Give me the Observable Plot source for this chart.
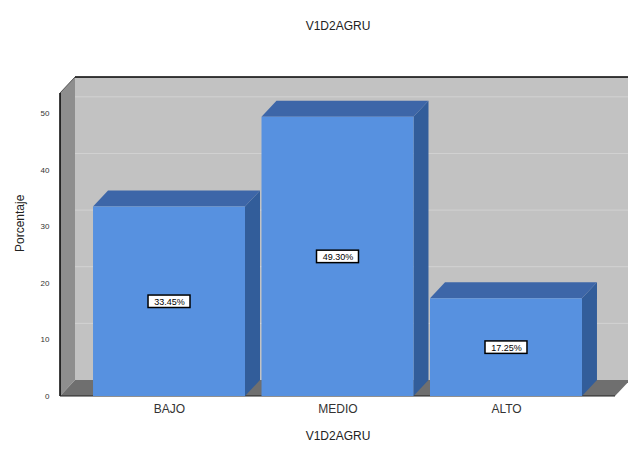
<!DOCTYPE html>
<html>
<head>
<meta charset="utf-8">
<script src="https://cdn.jsdelivr.net/npm/d3@7"></script>
<script src="https://cdn.jsdelivr.net/npm/@observablehq/plot@0.6"></script>
<style>
  html, body { margin: 0; padding: 0; background: #ffffff; }
  #chart svg { display: block; }
</style>
</head>
<body>
<div id="chart"></div>
<script>
// ---- data ----
const categories = ["BAJO", "MEDIO", "ALTO"];
const values = [33.45, 49.30, 17.25];
const valueLabels = ["33.45%", "49.30%", "17.25%"];
const yTicks = [0, 10, 20, 30, 40, 50];
const chartTitle = "V1D2AGRU";
const xTitle = "V1D2AGRU";
const yTitle = "Porcentaje";

const data = categories.map((c, i) => ({cat: c, value: values[i], label: valueLabels[i]}));

// ---- style constants ----
const DX = 15, DY = -16;
const FRONT = "#5791e0", TOP = "#3d66a8", SIDE = "#325d9a";
const WALL = "#c2c2c2", LWALL = "#8e8e8e", FLOOR = "#6f6f6f";

// 3D walls + bar extrusions drawn through the plot's scales
function scene(index, scales, vals, dim) {
  const g = d3.create("svg:g");
  const x = scales.x, y = scales.y;
  const L = dim.marginLeft, R = dim.width - dim.marginRight;
  const B = y(0), T = dim.marginTop;
  const poly = (pts, fill) => g.append("polygon")
    .attr("points", pts.map(p => p.join(",")).join(" "))
    .attr("fill", fill);
  // back wall
  g.append("rect").attr("x", L + DX).attr("y", T + DY)
    .attr("width", R - L).attr("height", B - T).attr("fill", WALL);
  // grid lines on back wall
  for (const t of yTicks.slice(1)) {
    g.append("line").attr("x1", L + DX).attr("x2", R + DX)
      .attr("y1", y(t) + DY).attr("y2", y(t) + DY)
      .attr("stroke", "#d2d2d2").attr("stroke-width", 1);
  }
  // left wall
  poly([[L, B], [L, T], [L + DX, T + DY], [L + DX, B + DY]], LWALL);
  // floor
  poly([[L, B], [R, B], [R + DX, B + DY], [L + DX, B + DY]], FLOOR);
  // top edge of back wall
  g.append("line").attr("x1", L + DX).attr("x2", R + DX)
    .attr("y1", T + DY).attr("y2", T + DY).attr("stroke", "#000").attr("stroke-width", 1.5);
  g.append("line").attr("x1", L).attr("x2", L + DX)
    .attr("y1", T).attr("y2", T + DY).attr("stroke", "#555").attr("stroke-width", 1);
  // left axis line + floor front edge
  g.append("line").attr("x1", L).attr("x2", L).attr("y1", T).attr("y2", B)
    .attr("stroke", "#000").attr("stroke-width", 1.5);
  g.append("line").attr("x1", L).attr("x2", R).attr("y1", B).attr("y2", B)
    .attr("stroke", "#222").attr("stroke-width", 1);
  // bar extrusions
  const bw = x.bandwidth ? x.bandwidth() : 152;
  for (const d of data) {
    const x0 = x(d.cat), x1 = x0 + bw, yt = y(d.value), yb = y(0);
    poly([[x1, yb], [x1, yt], [x1 + DX, yt + DY], [x1 + DX, yb + DY]], SIDE);
    poly([[x0, yt], [x1, yt], [x1 + DX, yt + DY], [x0 + DX, yt + DY]], TOP);
  }
  return g.node();
}

const chart = Plot.plot({
  width: 628,
  height: 453,
  marginLeft: 60,
  marginRight: 13,
  marginTop: 93,
  marginBottom: 57,
  style: {fontFamily: "Arial, 'Liberation Sans', sans-serif", background: "#ffffff"},
  x: {domain: categories, paddingInner: 0.098, paddingOuter: 0.196, round: false, axis: null},
  y: {domain: [0, 53.5], axis: null},
  marks: [
    scene,
    Plot.barY(data, {x: "cat", y: "value", fill: FRONT}),
    Plot.rect(data, {
      x: "cat",
      y1: d => d.value / 2 - 1.1,
      y2: d => d.value / 2 + 1.1,
      insetLeft: 55, insetRight: 55,
      fill: "#ffffff", stroke: "#000", strokeWidth: 1.5
    }),
    Plot.text(data, {x: "cat", y: d => d.value / 2, text: "label", fontSize: 9, fill: "#000"}),
    // y tick labels
    Plot.text(yTicks, {y: d => d, text: d => String(d), frameAnchor: "left", dx: -11, textAnchor: "end", fontSize: 8, fill: "#333"}),
    // x category labels
    Plot.text(categories, {x: d => d, text: d => d, frameAnchor: "bottom", dy: 16, fontSize: 12, fill: "#333"}),
    // axis titles & chart title
    Plot.text([xTitle], {frameAnchor: "bottom", dy: 43, text: d => d, fontSize: 12, fill: "#222"}),
    Plot.text([yTitle], {frameAnchor: "left", dx: -40, dy: 7, rotate: -90, text: d => d, fontSize: 12, fill: "#222"}),
    Plot.text([chartTitle], {frameAnchor: "top", dy: -72, text: d => d, fontSize: 12, fill: "#222"})
  ]
});
document.getElementById("chart").appendChild(chart);
</script>
</body>
</html>
